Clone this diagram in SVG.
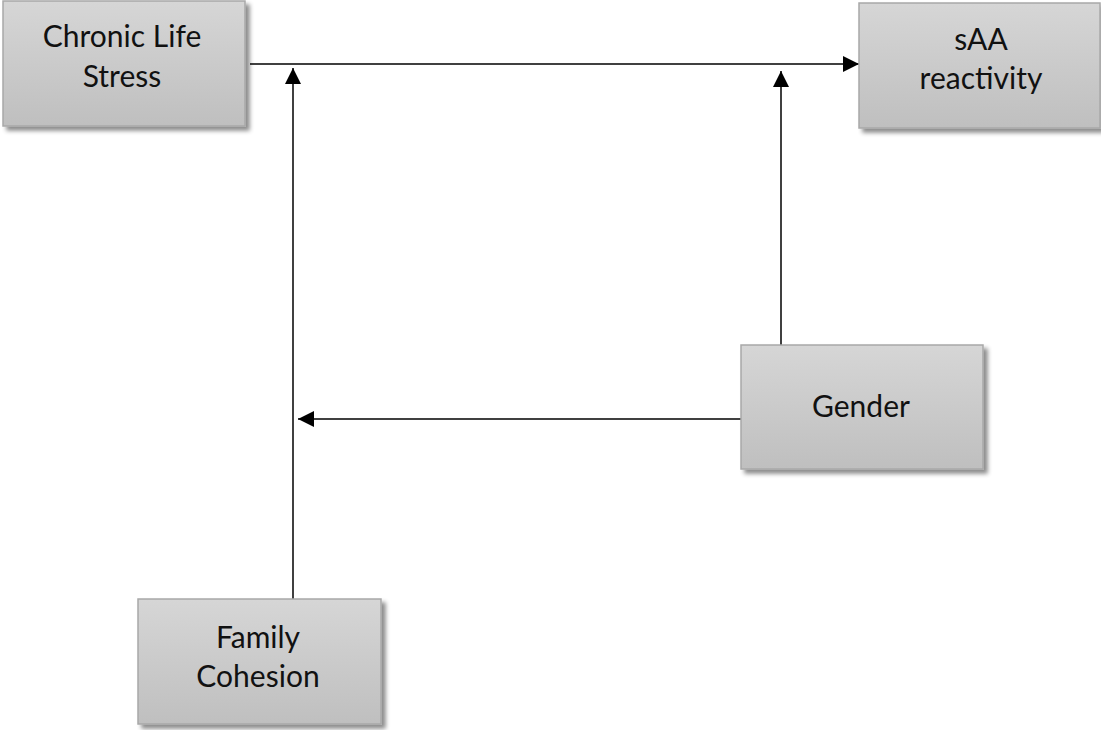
<svg xmlns="http://www.w3.org/2000/svg" width="1101" height="730" viewBox="0 0 1101 730">
<style>
.box{fill:url(#g);stroke:#a8a8a8;stroke-width:1.5;filter:url(#sh)}
.t{font-family:Lato,"Open Sans","Liberation Sans",sans-serif;font-size:30px;fill:#111;text-anchor:middle}
.c{stroke:#000;stroke-width:1.5;fill:none;marker-end:url(#ah)}
</style>
<defs>
<linearGradient id="g" x1="0" y1="0" x2="0" y2="1">
<stop offset="0" stop-color="#d6d6d6"/>
<stop offset="1" stop-color="#bfbfbf"/>
</linearGradient>
<filter id="sh" x="-10%" y="-10%" width="130%" height="130%">
<feDropShadow dx="4" dy="4" stdDeviation="2" flood-color="#000" flood-opacity="0.45"/>
</filter>
<marker id="ah" markerUnits="userSpaceOnUse" markerWidth="17" markerHeight="17" refX="16" refY="8" orient="auto">
<path d="M0,0 L16,8 L0,16 Z" fill="#000"/>
</marker>
</defs>
<g id="connectors">
<path class="c" d="M250,64 H859"/>
<path class="c" d="M293,599 V68"/>
<path class="c" d="M781,345 V71"/>
<path class="c" d="M741,419 H298"/>
</g>
<g id="chronic">
<rect class="box" x="3" y="1" width="242" height="125"/>
<text class="t" x="122" y="47">Chronic Life</text>
<text class="t" x="122" y="87">Stress</text>
</g>
<g id="saa">
<rect class="box" x="859" y="3" width="241" height="125"/>
<text class="t" x="981" y="50">sAA</text>
<text class="t" x="981" y="89">reactivity</text>
</g>
<g id="gender">
<rect class="box" x="741" y="345" width="242" height="124"/>
<text class="t" x="861" y="417">Gender</text>
</g>
<g id="family">
<rect class="box" x="138" y="599" width="243" height="125"/>
<text class="t" x="258" y="648">Family</text>
<text class="t" x="258" y="687">Cohesion</text>
</g>
</svg>
